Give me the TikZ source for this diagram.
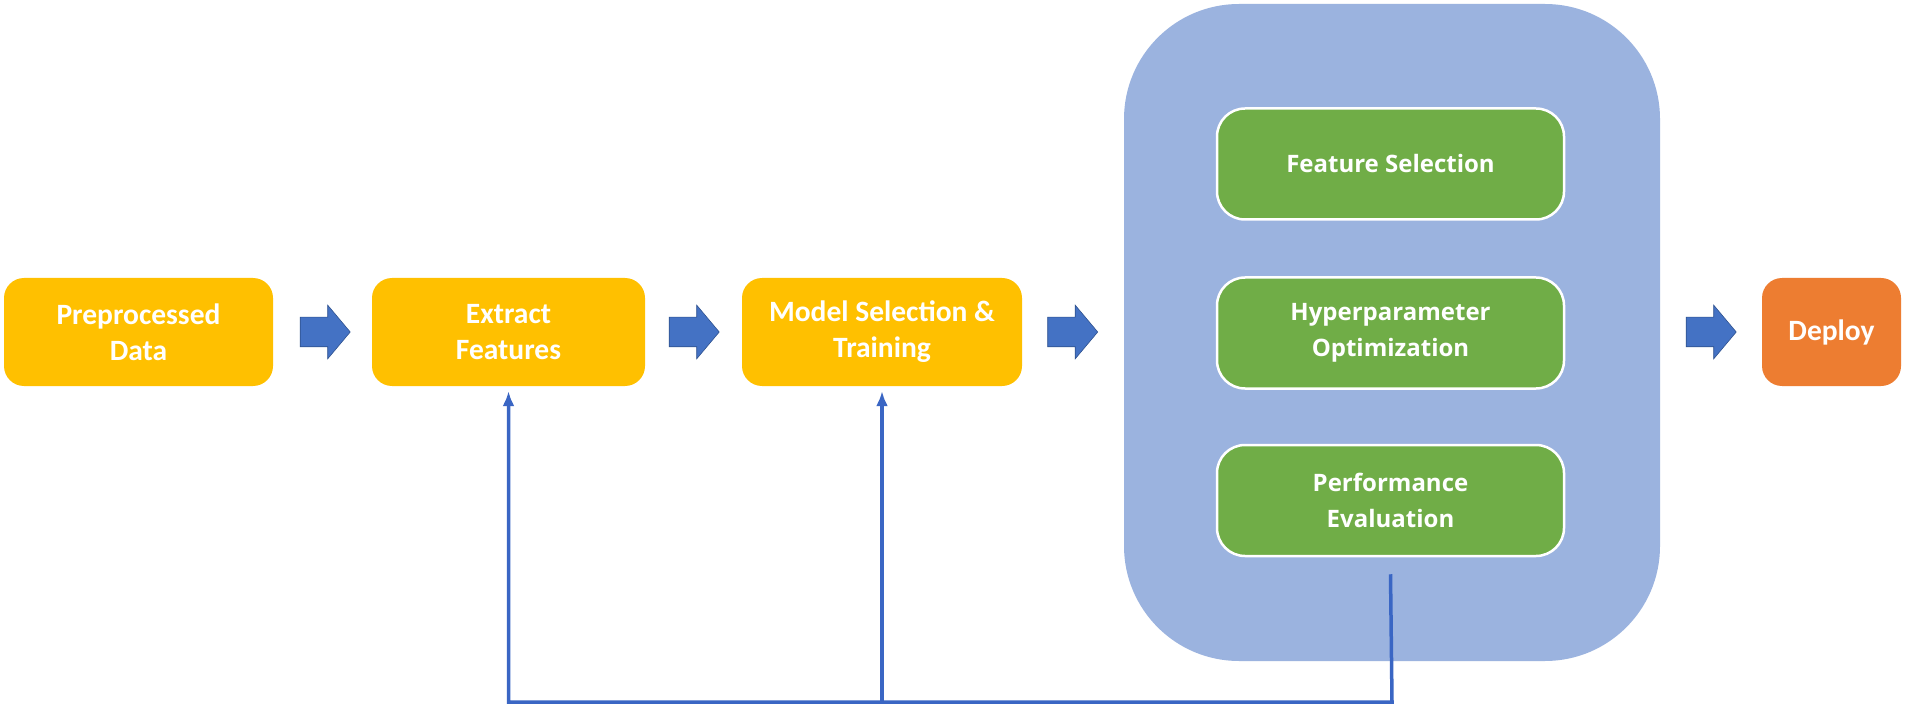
\documentclass[tikz,border=0pt]{standalone}
\usepackage{fontspec}
\setmainfont{Carlito}
\newfontfamily\greenfont{Open Sans}
\usetikzlibrary{shapes.arrows,arrows.meta}
\definecolor{ybox}{HTML}{FFC000}
\definecolor{gbox}{HTML}{70AD47}
\definecolor{cbox}{HTML}{9BB3DF}
\definecolor{obox}{HTML}{ED7D31}
\definecolor{ablue}{HTML}{4472C4}
\definecolor{aedge}{HTML}{2F528F}
\definecolor{lblue}{HTML}{3A66C4}
\tikzset{
  yellowbox/.style={fill=ybox, rounded corners=20pt, minimum height=108pt, inner sep=0pt, text=white, align=center, font=\fontsize{29.5}{36}\selectfont\bfseries},
  orangebox/.style={yellowbox, fill=obox},
  greenbox/.style={fill=gbox, draw=white, line width=2.5pt, rounded corners=28pt, minimum width=347pt, minimum height=111pt, inner sep=0pt, text=white, align=center, font=\greenfont\fontsize{24}{36}\selectfont\bfseries},
  container/.style={fill=cbox, rounded corners=115pt, minimum width=536pt, minimum height=657pt, inner sep=0pt},
  blockarrow/.style={single arrow, fill=ablue, draw=aedge, line width=0.6pt, minimum height=50pt, inner xsep=0pt, inner ysep=14.5pt, single arrow head extend=12pt, single arrow tip angle=100},
  feedback/.style={draw=lblue, line width=3.5pt},
  fbarrow/.style={feedback, -{Latex[length=15pt,width=12pt]}},
}
\begin{document}
\begin{tikzpicture}[x=1pt,y=-1pt]
\useasboundingbox[fill=white] (0,0) rectangle (1905,708);
\node[container] (cont) at (1392,332.5) {};
\node[yellowbox, minimum width=269pt] (pre) at (138.5,332) {Preprocessed\\Data};
\node[yellowbox, minimum width=273pt] (ext) at (508.5,332) {Extract\\Features};
\node[yellowbox, minimum width=280pt] (model) at (882,332) {Model Selection \&\\Training};
\node[orangebox, minimum width=139pt] (deploy) at (1831.5,332) {Deploy};
\node[greenbox] (fs) at (1390.5,164) {Feature Selection};
\node[greenbox] (ho) at (1390.5,333) {Hyperparameter\\Optimization};
\node[greenbox] (pe) at (1390.5,500.5) {Performance\\Evaluation};
\node[blockarrow] (a1) at (319,332) {};
\node[blockarrow] (a2) at (688,332) {};
\node[blockarrow] (a3) at (1066.5,332) {};
\node[blockarrow] (a4) at (1705,332) {};
\coordinate (fbstart) at ([yshift=-17pt]pe.south);
\coordinate (fbcorner) at (1392,702);
\draw[fbarrow, line join=miter] (fbstart) -- (fbcorner) -| ([yshift=-5pt]ext.south);
\draw[fbarrow] (model.south |- fbcorner) -- ([yshift=-5pt]model.south);
\end{tikzpicture}
\end{document}
